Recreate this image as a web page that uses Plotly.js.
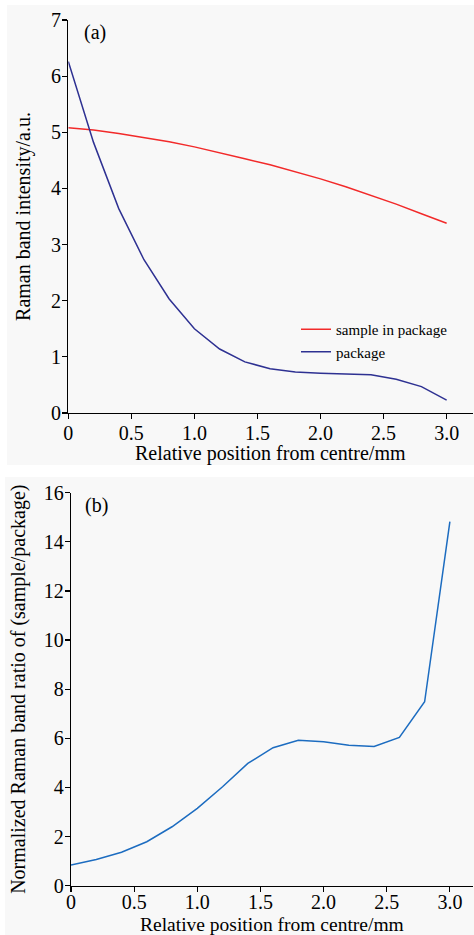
<!DOCTYPE html>
<html>
<head>
<meta charset="utf-8">
<script src="https://cdn.plot.ly/plotly-3.0.1.min.js"></script>
<style>html,body{margin:0;padding:0;background:#fff;}#chart{width:474px;height:935px;}</style>
</head>
<body>
<div id="chart"></div>
<script>
// ---- data ----
const positions = [0, 0.2, 0.4, 0.6, 0.8, 1.0, 1.2, 1.4, 1.6, 1.8, 2.0, 2.2, 2.4, 2.6, 2.8, 3.0];
const sampleInPackage = [5.08, 5.04, 4.98, 4.91, 4.83, 4.74, 4.64, 4.53, 4.42, 4.30, 4.17, 4.03, 3.88, 3.72, 3.55, 3.38];
const packageOnly = [6.26, 4.82, 3.64, 2.73, 2.03, 1.50, 1.14, 0.91, 0.79, 0.73, 0.71, 0.70, 0.68, 0.60, 0.47, 0.23];
const ratio = [0.84, 1.07, 1.36, 1.79, 2.40, 3.15, 4.03, 4.98, 5.62, 5.92, 5.86, 5.72, 5.67, 6.04, 7.49, 14.82];
const xTickVals = [0, 0.5, 1.0, 1.5, 2.0, 2.5, 3.0];
const xTickText = ["0", "0.5", "1.0", "1.5", "2.0", "2.5", "3.0"];
const seriesNames = ["sample in package", "package"];
const xTitle = "Relative position from centre/mm";
const yTitleA = "Raman band intensity/a.u.";
const yTitleB = "Normalized Raman band ratio of (sample/package)";
const panelLabels = ["(a)", "(b)"];

const W = 474, H = 935;
const FAM = "Liberation Serif";
const font = {family: FAM, color: "#000", size: 20};

const traces = [
  {x: positions, y: sampleInPackage, name: seriesNames[0], type: "scatter", mode: "lines",
   line: {color: "#f22a2a", width: 1.5}, xaxis: "x", yaxis: "y"},
  {x: positions, y: packageOnly, name: seriesNames[1], type: "scatter", mode: "lines",
   line: {color: "#2e3192", width: 1.5}, xaxis: "x", yaxis: "y"},
  {x: positions, y: ratio, name: "ratio", type: "scatter", mode: "lines", showlegend: false,
   line: {color: "#1c6cc0", width: 1.5}, xaxis: "x2", yaxis: "y2"}
];

function axisBase() {
  return {
    showline: true, linecolor: "#000", linewidth: 1.2,
    ticks: "outside", ticklen: 5, tickwidth: 1.2, tickcolor: "#000",
    showgrid: false, zeroline: false, automargin: false,
    tickfont: {family: FAM, size: 20, color: "#000"}
  };
}

const px = v => v / W;
const py = v => 1 - v / H;

const layout = {
  width: W, height: H,
  margin: {l: 0, r: 0, t: 0, b: 0},
  paper_bgcolor: "#ffffff", plot_bgcolor: "rgba(0,0,0,0)",
  font: font,
  showlegend: true,
  legend: {
    x: px(296), y: py(313), xanchor: "left", yanchor: "top",
    bgcolor: "rgba(0,0,0,0)", borderwidth: 0,
    font: {family: FAM, size: 15, color: "#000"},
    tracegroupgap: 0, itemwidth: 30
  },
  xaxis: Object.assign(axisBase(), {
    domain: [px(68.3), px(473)], range: [0, 3.209], anchor: "y",
    tickvals: xTickVals, ticktext: xTickText, ticklabelstandoff: -3
  }),
  yaxis: Object.assign(axisBase(), {
    domain: [py(413), py(20)], range: [0, 7], anchor: "x", dtick: 1, ticklabelstandoff: -3,
    title: {text: yTitleA, font: {family: FAM, size: 20, color: "#000"}, standoff: 15}
  }),
  xaxis2: Object.assign(axisBase(), {
    domain: [px(71), px(473)], range: [0, 3.183], anchor: "y2",
    tickvals: xTickVals, ticktext: xTickText, ticklabelstandoff: -7
  }),
  yaxis2: Object.assign(axisBase(), {
    domain: [py(885.7), py(492.7)], range: [0, 16], anchor: "x2", dtick: 2, ticklabelstandoff: -3,
    title: {text: yTitleB, font: {family: FAM, size: 20, color: "#000"}, standoff: 12}
  }),
  shapes: [
    {type: "rect", xref: "paper", yref: "paper", x0: px(7), x1: 1, y0: py(465), y1: py(5),
     fillcolor: "#f8f8f8", line: {width: 0}, layer: "below"},
    {type: "rect", xref: "paper", yref: "paper", x0: px(5), x1: 1, y0: 0, y1: py(477),
     fillcolor: "#f8f8f8", line: {width: 0}, layer: "below"}
  ],
  annotations: [
    {text: panelLabels[0], xref: "paper", yref: "paper", x: px(95), y: py(33),
     xanchor: "center", yanchor: "middle", showarrow: false,
     font: {family: FAM, size: 20, color: "#000"}},
    {text: panelLabels[1], xref: "paper", yref: "paper", x: px(96), y: py(505),
     xanchor: "center", yanchor: "middle", showarrow: false,
     font: {family: FAM, size: 20, color: "#000"}},
    // x-axis titles
    {text: xTitle, xref: "paper", yref: "paper", x: px(270.5), y: py(453.5),
     xanchor: "center", yanchor: "middle", showarrow: false, borderpad: 0,
     font: {family: FAM, size: 20, color: "#000"}},
    {text: xTitle, xref: "paper", yref: "paper", x: px(271.5), y: py(924),
     xanchor: "center", yanchor: "middle", showarrow: false, borderpad: 0,
     font: {family: FAM, size: 19.5, color: "#000"}}
  ]
};

Plotly.newPlot("chart", traces, layout, {staticPlot: true, displayModeBar: false});
</script>
</body>
</html>
